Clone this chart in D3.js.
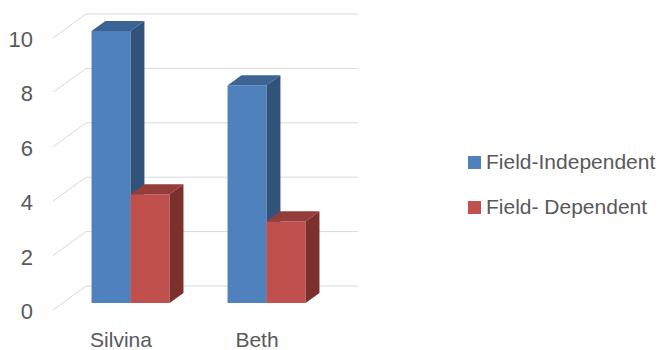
<!DOCTYPE html>
<html>
<head>
<meta charset="utf-8">
<script src="https://cdn.jsdelivr.net/npm/d3@7"></script>
<style>
  body { margin: 0; background: #fff; }
  text { font-family: "Liberation Sans", Arial, sans-serif; fill: #595959; }
</style>
</head>
<body>
<div id="chart"></div>
<script>
// data ---------------------------------------------------------------
const categories = ["Silvina", "Beth"];
const seriesNames = ["Field-Independent", "Field- Dependent"];
const independentValues = [10, 8];
const dependentValues = [4, 3];
const yTicks = [0, 2, 4, 6, 8, 10];

const width = 667, height = 350;

// colours per series: front, top, side
const colors = [
    { front: "#4f81bd", top: "#3b6394", side: "#33527a" },
    { front: "#c0504d", top: "#953d3b", side: "#7b302e" }
];

// oblique depth of the plot box
const DX = 33, DY = 24;
const zFront = 0.29, zBack = 0.71;   // bar depth inside the box

const svg = d3.select("#chart")
    .append("svg")
    .attr("width", width)
    .attr("height", height);

// scales
const x0 = d3.scaleBand().domain(categories).range([53, 325]);
const x1 = d3.scaleBand()
    .domain(seriesNames)
    .range([x0.bandwidth() * 0.213, x0.bandwidth() * 0.787]);
const y = d3.scaleLinear().domain([0, 10]).range([310, 38]);

// project a front-plane point back into depth z (0 = front, 1 = back wall)
const P = (px, py, z) => [px + z * DX, py - z * DY];

// gridlines: side wall diagonals and back wall
const grid = svg.append("g")
    .attr("stroke", "#d9d9d9")
    .attr("stroke-width", 1)
    .attr("fill", "none");

grid.selectAll("line.side")
    .data(yTicks)
    .join("line")
    .attr("class", "side")
    .attr("x1", x0.range()[0])
    .attr("y1", d => y(d))
    .attr("x2", x0.range()[0] + DX)
    .attr("y2", d => y(d) - DY);

grid.selectAll("line.back")
    .data(yTicks)
    .join("line")
    .attr("class", "back")
    .attr("x1", x0.range()[0] + DX)
    .attr("y1", d => y(d) - DY)
    .attr("x2", x0.range()[1] + DX)
    .attr("y2", d => y(d) - DY);

// y tick labels
svg.append("g")
    .selectAll("text")
    .data(yTicks)
    .join("text")
    .attr("x", 33)
    .attr("y", d => y(d) + 1)
    .attr("dy", "0.36em")
    .attr("text-anchor", "end")
    .style("font-size", "22px")
    .text(d => d);

// category labels
svg.append("g")
    .selectAll("text")
    .data(categories)
    .join("text")
    .attr("x", d => x0(d) + x0.bandwidth() / 2)
    .attr("y", y(0) + 37)
    .attr("text-anchor", "middle")
    .style("font-size", "21px")
    .text(d => d);

// bars
const bars = [];
categories.forEach((c, i) => {
    [independentValues[i], dependentValues[i]].forEach((v, s) => {
        bars.push({ cat: c, series: seriesNames[s], s: s, value: v });
    });
});

const poly = pts => "M" + pts.map(p => p.join(",")).join("L") + "Z";

const barG = svg.append("g")
    .selectAll("g")
    .data(bars)
    .join("g");

barG.each(function(d) {
    const g = d3.select(this);
    const xl = x0(d.cat) + x1(d.series);
    const xr = xl + x1.bandwidth();
    const yb = y(0), yt = y(d.value);
    const c = colors[d.s];

    // front face
    g.append("path")
        .attr("d", poly([P(xl, yb, zFront), P(xr, yb, zFront), P(xr, yt, zFront), P(xl, yt, zFront)]))
        .attr("fill", c.front);
    // top face
    g.append("path")
        .attr("d", poly([P(xl, yt, zFront), P(xr, yt, zFront), P(xr, yt, zBack), P(xl, yt, zBack)]))
        .attr("fill", c.top);
    // side face
    g.append("path")
        .attr("d", poly([P(xr, yb, zFront), P(xr, yb, zBack), P(xr, yt, zBack), P(xr, yt, zFront)]))
        .attr("fill", c.side);
});

// legend
const legend = svg.append("g")
    .selectAll("g")
    .data(seriesNames)
    .join("g")
    .attr("transform", (d, i) => `translate(468, ${156 + i * 45})`);

legend.append("rect")
    .attr("width", 13)
    .attr("height", 13)
    .attr("fill", (d, i) => colors[i].front);

legend.append("text")
    .attr("x", 18)
    .attr("y", 13)
    .style("font-size", "21px")
    .text(d => d);
</script>
</body>
</html>
